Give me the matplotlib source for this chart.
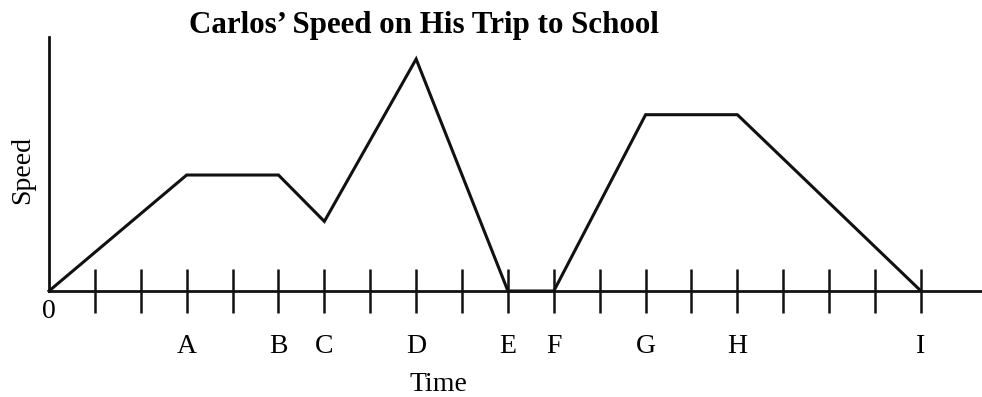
import matplotlib
matplotlib.use('Agg')
import matplotlib.pyplot as plt

# dados
tempo = [0, 3, 5, 6, 8, 10, 11, 13, 15, 19]
velocidade = [0, 5, 5, 3, 10, 0, 0, 7.6, 7.6, 0]
tick_pos = list(range(1, 20))
letras = {3: 'A', 5: 'B', 6: 'C', 8: 'D', 10: 'E', 11: 'F', 13: 'G', 15: 'H', 19: 'I'}

plt.rcParams['font.family'] = 'Liberation Serif'
cor = '#111111'

fig = plt.figure(figsize=(9.82, 3.97), dpi=100)
ax = fig.add_axes([49/982, 106/397, 1 - 49/982, 254/397])

ax.plot(tempo, velocidade, color=cor, lw=2.2, solid_joinstyle='miter', clip_on=False)

ax.set_xlim(0, 20.33)
ax.set_ylim(0, 10.95)
ax.spines['top'].set_visible(False)
ax.spines['right'].set_visible(False)
for s in ['left', 'bottom']:
    ax.spines[s].set_linewidth(2.0)
    ax.spines[s].set_color(cor)

ax.set_yticks([])
ax.set_xticks(tick_pos)
ax.set_xticklabels([letras.get(t, '') for t in tick_pos], fontsize=20)
ax.tick_params(axis='x', direction='inout', length=32, width=1.8, color=cor, pad=15)

fig.text(49/982, 1 - 311/397, '0', ha='center', va='center', fontsize=20)
fig.text(438/982, 1 - 391/397, 'Time', ha='center', va='baseline', fontsize=20)
fig.text(23/982, 1 - 170/397, 'Speed', ha='center', va='center', rotation=90, fontsize=20)
fig.text(424/982, 1 - 33/397, 'Carlos\u2019 Speed on His Trip to School', ha='center',
         va='baseline', fontsize=22.3, fontweight='bold')

fig.savefig('out.png', dpi=100)
